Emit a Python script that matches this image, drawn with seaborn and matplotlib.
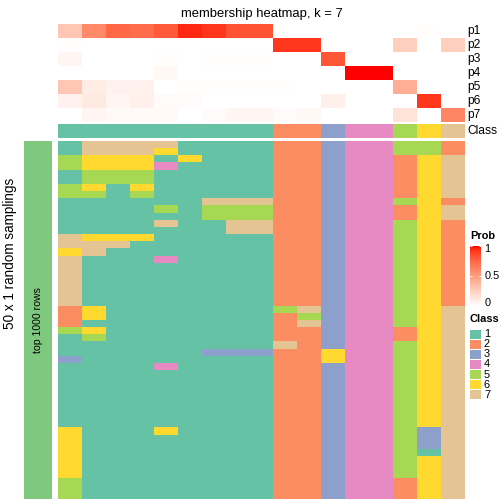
import numpy as np
import pandas as pd
import matplotlib
matplotlib.use('Agg')
import matplotlib.pyplot as plt
import seaborn as sns
from matplotlib.colors import ListedColormap

# ---------------------------------------------------------
# data
# ---------------------------------------------------------
class_names = ['1', '2', '3', '4', '5', '6', '7']
class_colors = ['#66C2A5', '#FC8D62', '#8DA0CB', '#E78AC3', '#A6D854', '#FFD92F', '#E5C494']
prob_labels = ['p1', 'p2', 'p3', 'p4', 'p5', 'p6', 'p7']

# membership probability per sample (17 samples)
p1 = [0.30, 0.60, 0.75, 0.73, 0.80, 0.95, 0.92, 0.83, 0.83, 0, 0, 0, 0, 0, 0, 0.01, 0]
p2 = [0.01, 0, 0, 0, 0, 0, 0, 0, 0, 0.92, 0.92, 0, 0, 0, 0.25, 0, 0.25]
p3 = [0.05, 0, 0, 0, 0.01, 0, 0.01, 0.01, 0.01, 0, 0, 0.82, 0, 0, 0, 0, 0]
p4 = [0, 0, 0, 0, 0.04, 0, 0, 0, 0, 0, 0, 0, 1.0, 1.0, 0, 0, 0]
p5 = [0.30, 0.10, 0.07, 0.07, 0, 0.01, 0.01, 0.01, 0.01, 0.01, 0, 0, 0, 0, 0.42, 0, 0]
p6 = [0.07, 0.11, 0.05, 0.08, 0.02, 0.02, 0, 0, 0, 0, 0, 0.08, 0, 0, 0, 0.92, 0]
p7 = [0, 0.05, 0.03, 0.03, 0.03, 0, 0.02, 0.05, 0.05, 0.02, 0.04, 0, 0, 0, 0.15, 0, 0.62]

# consensus class per sample
sample_class = [1, 1, 1, 1, 1, 1, 1, 1, 1, 2, 2, 3, 4, 4, 5, 6, 7]

# class per sample for each of the 50 random samplings (one string per row)
samplings = [
    '17777111122344552', '17776111122344552', '56661611122344267', '56664111122344267',
    '15551111122344267', '15551111122344267', '56161111122344267', '55151111122344267',
    '11111177722344562', '11115155522344267', '11111155522344267', '11117117722344562',
    '11111117722344562', '76661111122344562', '77711111122344562', '67111111122344562',
    '71114111122344562', '71111111122344562', '71111111122344562', '71111111122344562',
    '71111111122344562', '71111111122344562', '71111111122344562', '26111111157344567',
    '26111111125344567', '21111111127344567', '56111111122344267', '15111111122344267',
    '11111111172344567', '11111133322644567', '31111111122644567', '11114111122344567',
    '11111111122344567', '11111111122344567', '11111111122344567', '11111111122344567',
    '11111111122344567', '11111111122344567', '11111111122344567', '11111111122344567',
    '61116111122344537', '61111111122344537', '61111111122344537', '61111111122344517',
    '61111111122344567', '61111111122344567', '61111111122344567', '51111111122344267',
    '51111111122344267', '51111111122344267',
]


# ---------------------------------------------------------
# white -> red colour ramp interpolated in LAB space
# ---------------------------------------------------------
def rgb_to_lab(rgb):
    rgb = np.asarray(rgb, dtype=float)
    lin = np.where(rgb <= 0.04045, rgb / 12.92, ((rgb + 0.055) / 1.055) ** 2.4)
    m = np.array([[0.4124, 0.3576, 0.1805], [0.2126, 0.7152, 0.0722], [0.0193, 0.1192, 0.9505]])
    xyz = lin @ m.T / np.array([0.95047, 1.0, 1.08883])
    f = np.where(xyz > 0.008856, np.cbrt(xyz), 7.787 * xyz + 16 / 116)
    return np.stack([116 * f[..., 1] - 16, 500 * (f[..., 0] - f[..., 1]), 200 * (f[..., 1] - f[..., 2])], -1)


def lab_to_rgb(lab):
    lab = np.asarray(lab, dtype=float)
    fy = (lab[..., 0] + 16) / 116
    fx = fy + lab[..., 1] / 500
    fz = fy - lab[..., 2] / 200
    f = np.stack([fx, fy, fz], -1)
    xyz = np.where(f ** 3 > 0.008856, f ** 3, (f - 16 / 116) / 7.787) * np.array([0.95047, 1.0, 1.08883])
    m = np.array([[3.2406, -1.5372, -0.4986], [-0.9689, 1.8758, 0.0415], [0.0557, -0.2040, 1.0570]])
    lin = xyz @ m.T
    rgb = np.where(lin <= 0.0031308, 12.92 * lin, 1.055 * np.clip(lin, 0, None) ** (1 / 2.4) - 0.055)
    return np.clip(rgb, 0, 1)


t = np.linspace(0, 1, 256)[:, None]
lab_w = rgb_to_lab([1, 1, 1])
lab_r = rgb_to_lab([1, 0, 0])
prob_cmap = ListedColormap(lab_to_rgb(lab_w * (1 - t) + lab_r * t))
class_cmap = ListedColormap(class_colors)

# ---------------------------------------------------------
# figure
# ---------------------------------------------------------
plt.rcParams['font.family'] = ['Liberation Sans', 'DejaVu Sans']
W = H = 504
fig = plt.figure(figsize=(7, 7), dpi=72)


def px_axes(x0, y0, x1, y1):
    return fig.add_axes([x0 / W, 1 - y1 / H, (x1 - x0) / W, (y1 - y0) / H])


X0, X1 = 58, 465

# membership heatmap
df_prob = pd.DataFrame([p1, p2, p3, p4, p5, p6, p7], index=prob_labels)
ax = px_axes(X0, 24, X1, 122)
sns.heatmap(df_prob, ax=ax, cmap=prob_cmap, vmin=0, vmax=1, cbar=False,
            xticklabels=False, yticklabels=False)
for i, lab in enumerate(prob_labels):
    ax.text(1.005, 1 - (i + 0.5) / 7, lab, transform=ax.transAxes,
            ha='left', va='center', fontsize=12)
ax.set_title('membership heatmap, k = 7', fontsize=13, pad=7)

# class annotation bar
ax = px_axes(X0, 124, X1, 138)
sns.heatmap(np.array([sample_class]), ax=ax, cmap=class_cmap, vmin=0.5, vmax=7.5,
            cbar=False, xticklabels=False, yticklabels=False)
ax.text(1.005, 0.5, 'Class', transform=ax.transAxes, ha='left', va='center', fontsize=12)

# random samplings heatmap
mat = np.array([[int(c) for c in s] for s in samplings])
ax = px_axes(X0, 141, X1, 499)
sns.heatmap(mat, ax=ax, cmap=class_cmap, vmin=0.5, vmax=7.5, cbar=False,
            xticklabels=False, yticklabels=False)

# left split bar
ax = px_axes(24, 141, 52, 499)
sns.heatmap(np.array([[1]]), ax=ax, cmap=ListedColormap(['#7FC97F']), cbar=False,
            xticklabels=False, yticklabels=False)
ax.text(0.5, 0.5, 'top 1000 rows', transform=ax.transAxes, rotation=90,
        ha='center', va='center', fontsize=10.5)
fig.text(10 / W, 1 - 253 / H, '50 x 1 random samplings', rotation=90,
         ha='center', va='center', fontsize=13.5)

# Prob legend
fig.text(470 / W, 1 - 236 / H, 'Prob', fontsize=11, fontweight='bold', ha='left', va='center')
cax = px_axes(470, 245.7, 481, 305.7)
cax.imshow(np.linspace(1, 0, 200)[:, None], aspect='auto', cmap=prob_cmap, vmin=0, vmax=1,
           extent=[0, 1, 0, 1])
cax.set_axis_off()
for v in [0, 0.5, 1]:
    cax.plot([0, 0.2], [v, v], color='white', lw=1, solid_capstyle='butt')
    cax.plot([0.8, 1], [v, v], color='white', lw=1, solid_capstyle='butt')
    cax.text(1.3, min(max(v, 0.05), 0.95) if v != 0.5 else v, {0: '0', 0.5: '0.5', 1: '1'}[v],
             transform=cax.transAxes, ha='left', va='center', fontsize=11)
cax.set_xlim(0, 1)
cax.set_ylim(0, 1)

# Class legend
fig.text(470 / W, 1 - 319.5 / H, 'Class', fontsize=11, fontweight='bold', ha='left', va='center')
lax = px_axes(470, 329.5, 500, 400)
lax.set_xlim(470, 500)
lax.set_ylim(400, 329.5)
lax.set_axis_off()
for i, (name, col) in enumerate(zip(class_names, class_colors)):
    y = 329.5 + i * 10.1
    lax.add_patch(plt.Rectangle((470, y), 11, 9.2, color=col, lw=0))
    lax.text(484, y + 4.6, name, ha='left', va='center', fontsize=11)

fig.savefig('out.png', dpi=72)
